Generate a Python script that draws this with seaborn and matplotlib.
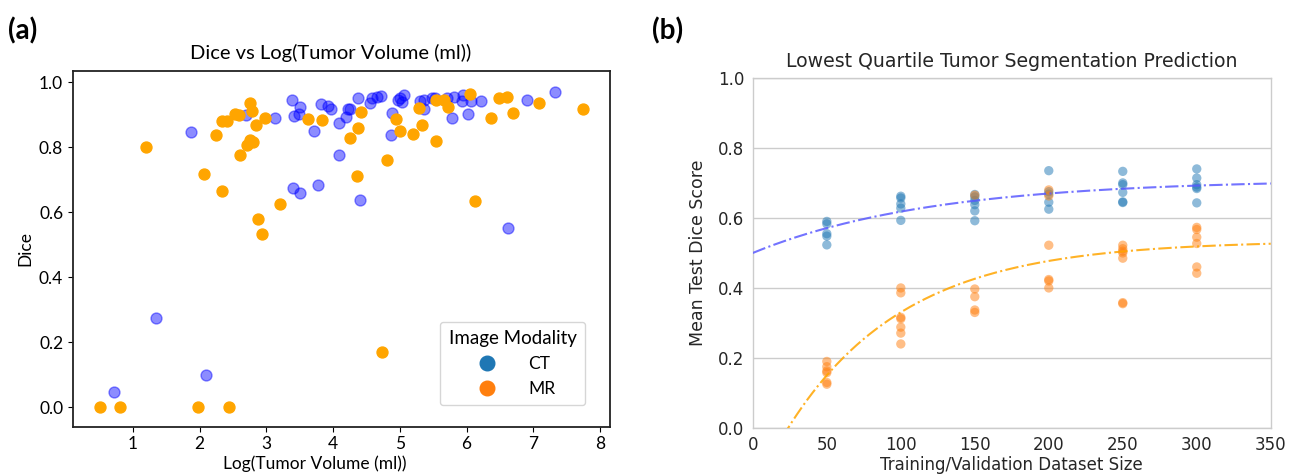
import numpy as np
import pandas as pd
import matplotlib
matplotlib.use("Agg")
import matplotlib.pyplot as plt
import seaborn as sns
from matplotlib.lines import Line2D

# ---------------- Panel (a) data ----------------
ct_logvol = [0.72, 1.35, 2.09, 1.87, 2.69, 3.13, 3.38, 3.41, 3.51, 3.49,
             3.71, 3.82, 3.92, 3.97, 4.09, 4.09, 4.20, 4.22, 4.26, 4.37,
             4.56, 4.59, 4.66, 4.72, 4.89, 4.87, 4.98, 5.01, 5.04, 5.06,
             5.31, 5.36, 5.37, 5.48, 5.53, 5.70, 5.78, 5.81, 5.93, 5.95,
             6.02, 6.07, 6.22, 6.62, 6.90, 7.33, 3.40, 3.50, 3.78, 4.40]
ct_dice = [0.046, 0.273, 0.10, 0.847, 0.90, 0.89, 0.946, 0.897, 0.923, 0.903,
           0.851, 0.933, 0.926, 0.918, 0.777, 0.874, 0.893, 0.916, 0.916, 0.95,
           0.936, 0.952, 0.954, 0.957, 0.905, 0.838, 0.946, 0.951, 0.94, 0.961,
           0.943, 0.946, 0.918, 0.952, 0.951, 0.95, 0.89, 0.954, 0.943, 0.96,
           0.903, 0.943, 0.941, 0.552, 0.946, 0.971, 0.674, 0.658, 0.684, 0.638]

mr_logvol = [0.51, 0.81, 1.97, 2.44, 1.19, 2.06, 2.34, 2.24, 2.34, 2.41,
             2.53, 2.59, 2.76, 2.79, 2.84, 2.61, 2.71, 2.76, 2.80, 2.98,
             2.87, 2.94, 3.21, 3.62, 3.84, 4.26, 4.37, 4.42, 4.36, 4.81,
             4.73, 4.95, 5.01, 5.20, 5.29, 5.34, 5.55, 5.55, 5.67, 5.72,
             6.05, 6.12, 6.36, 6.49, 6.60, 6.70, 7.08, 7.75]
mr_dice = [0, 0, 0, 0, 0.801, 0.717, 0.664, 0.836, 0.879, 0.879,
           0.903, 0.90, 0.936, 0.91, 0.869, 0.777, 0.806, 0.823, 0.815, 0.89,
           0.578, 0.532, 0.624, 0.887, 0.884, 0.827, 0.858, 0.908, 0.71, 0.759,
           0.168, 0.888, 0.848, 0.841, 0.919, 0.869, 0.946, 0.82, 0.944, 0.924,
           0.962, 0.635, 0.89, 0.95, 0.954, 0.905, 0.936, 0.916]

# ---------------- Panel (b) data ----------------
ct_sizes = [50]*5 + [100]*5 + [150]*6 + [200]*5 + [250]*6 + [300]*6
ct_scores = [0.59, 0.583, 0.555, 0.548, 0.523,
             0.662, 0.657, 0.64, 0.628, 0.593,
             0.667, 0.66, 0.65, 0.638, 0.62, 0.592,
             0.735, 0.675, 0.668, 0.645, 0.625,
             0.733, 0.70, 0.695, 0.673, 0.646, 0.644,
             0.74, 0.714, 0.695, 0.688, 0.684, 0.643]
mr_sizes = [50]*6 + [100]*7 + [150]*5 + [200]*6 + [250]*7 + [300]*6
mr_scores = [0.19, 0.175, 0.163, 0.158, 0.13, 0.125,
             0.40, 0.386, 0.316, 0.312, 0.288, 0.271, 0.24,
             0.665, 0.397, 0.375, 0.337, 0.33,
             0.68, 0.663, 0.522, 0.424, 0.42, 0.40,
             0.522, 0.512, 0.505, 0.50, 0.485, 0.358, 0.355,
             0.573, 0.567, 0.545, 0.527, 0.46, 0.442]

# fitted saturation curves  y = A - B*exp(-x/tau)
ct_fit = dict(A=0.71, B=0.21, tau=121.0)
mr_fit = dict(A=0.535, B=0.723, tau=79.2)

font_a = ["Lato", "DejaVu Sans"]
font_b = ["DejaVu Sans"]
plt.rcParams["font.family"] = font_a

fig = plt.figure(figsize=(12.98, 4.75), dpi=100)

# ---------------- Panel (a) ----------------
axa = fig.add_axes([0.0562, 0.102, 0.4137, 0.7484])
df_ct = pd.DataFrame({"logvol": ct_logvol, "dice": ct_dice})
df_mr = pd.DataFrame({"logvol": mr_logvol, "dice": mr_dice})
sns.scatterplot(data=df_ct, x="logvol", y="dice", ax=axa, color="blue",
                alpha=0.45, s=62, edgecolor="blue", linewidth=1.0, zorder=2)
sns.scatterplot(data=df_mr, x="logvol", y="dice", ax=axa, color="orange",
                alpha=1.0, s=62, edgecolor="orange", linewidth=1.0, zorder=3)
axa.set_xlim(0.1, 8.15)
axa.set_ylim(-0.06, 1.034)
axa.set_xticks([1, 2, 3, 4, 5, 6, 7, 8])
axa.set_yticks([0.0, 0.2, 0.4, 0.6, 0.8, 1.0])
axa.set_yticklabels(["0.0", "0.2", "0.4", "0.6", "0.8", "1.0"])
axa.tick_params(labelsize=12.5)
axa.set_title("Dice vs Log(Tumor Volume (ml))", fontsize=14.5, pad=9, x=0.48)
axa.set_xlabel("Log(Tumor Volume (ml))", fontsize=12.5, labelpad=2, x=0.45)
axa.set_ylabel("Dice", fontsize=12.5)
for sp in axa.spines.values():
    sp.set_linewidth(1.3)
    sp.set_color("#222222")
handles = [Line2D([0], [0], marker="o", linestyle="", markersize=10.5,
                  color=c) for c in ["#1f77b4", "#ff7f0e"]]
leg = axa.legend(handles, ["CT", "MR"], title="Image Modality",
                 loc="lower right", bbox_to_anchor=(0.97, 0.035),
                 fontsize=12.5, title_fontsize=13.5, borderpad=0.5,
                 handletextpad=1.4, labelspacing=0.5)

# ---------------- Panel (b) ----------------
with sns.axes_style("whitegrid"):
    axb = fig.add_axes([0.580, 0.099, 0.399, 0.737])
df_b = pd.DataFrame({
    "size": ct_sizes + mr_sizes,
    "score": ct_scores + mr_scores,
    "modality": ["CT"]*len(ct_sizes) + ["MR"]*len(mr_sizes),
})
sns.scatterplot(data=df_b, x="size", y="score", hue="modality",
                palette={"CT": "#1f77b4", "MR": "#ff7f0e"}, alpha=0.5,
                s=45, linewidth=0, ax=axb, legend=False, zorder=3)
xs = np.linspace(0, 350, 400)
curve_ct = ct_fit["A"] - ct_fit["B"]*np.exp(-xs/ct_fit["tau"])
curve_mr = mr_fit["A"] - mr_fit["B"]*np.exp(-xs/mr_fit["tau"])
sns.lineplot(x=xs, y=curve_ct, ax=axb, color="#5a5aff", alpha=0.85,
             linestyle="-.", linewidth=1.5, zorder=4)
sns.lineplot(x=xs, y=curve_mr, ax=axb, color="orange", alpha=0.85,
             linestyle="-.", linewidth=1.5, zorder=4)
axb.set_xlim(0, 350)
axb.set_ylim(0, 1.0)
axb.set_xticks([0, 50, 100, 150, 200, 250, 300, 350])
axb.set_yticks([0.0, 0.2, 0.4, 0.6, 0.8, 1.0])
axb.set_yticklabels(["0.0", "0.2", "0.4", "0.6", "0.8", "1.0"])
axb.grid(axis="x", visible=False)
axb.grid(axis="y", color="#cccccc", linewidth=1.0)
axb.tick_params(labelsize=12, length=0, pad=6)
for lab in axb.get_xticklabels() + axb.get_yticklabels():
    lab.set_family(font_b)
for sp in axb.spines.values():
    sp.set_color("#cccccc")
    sp.set_linewidth(1.0)
axb.set_title("Lowest Quartile Tumor Segmentation Prediction", fontsize=13.6,
              pad=8, family=font_b)
axb.set_xlabel("Training/Validation Dataset Size", fontsize=12, labelpad=1,
               family=font_b)
axb.set_ylabel("Mean Test Dice Score", fontsize=12.5, labelpad=8,
               family=font_b)

# panel letters
fig.text(0.006, 0.935, "(a)", fontsize=20, fontweight="bold", va="center")
fig.text(0.502, 0.935, "(b)", fontsize=20, fontweight="bold", va="center")

fig.savefig("out.png", dpi=100)
